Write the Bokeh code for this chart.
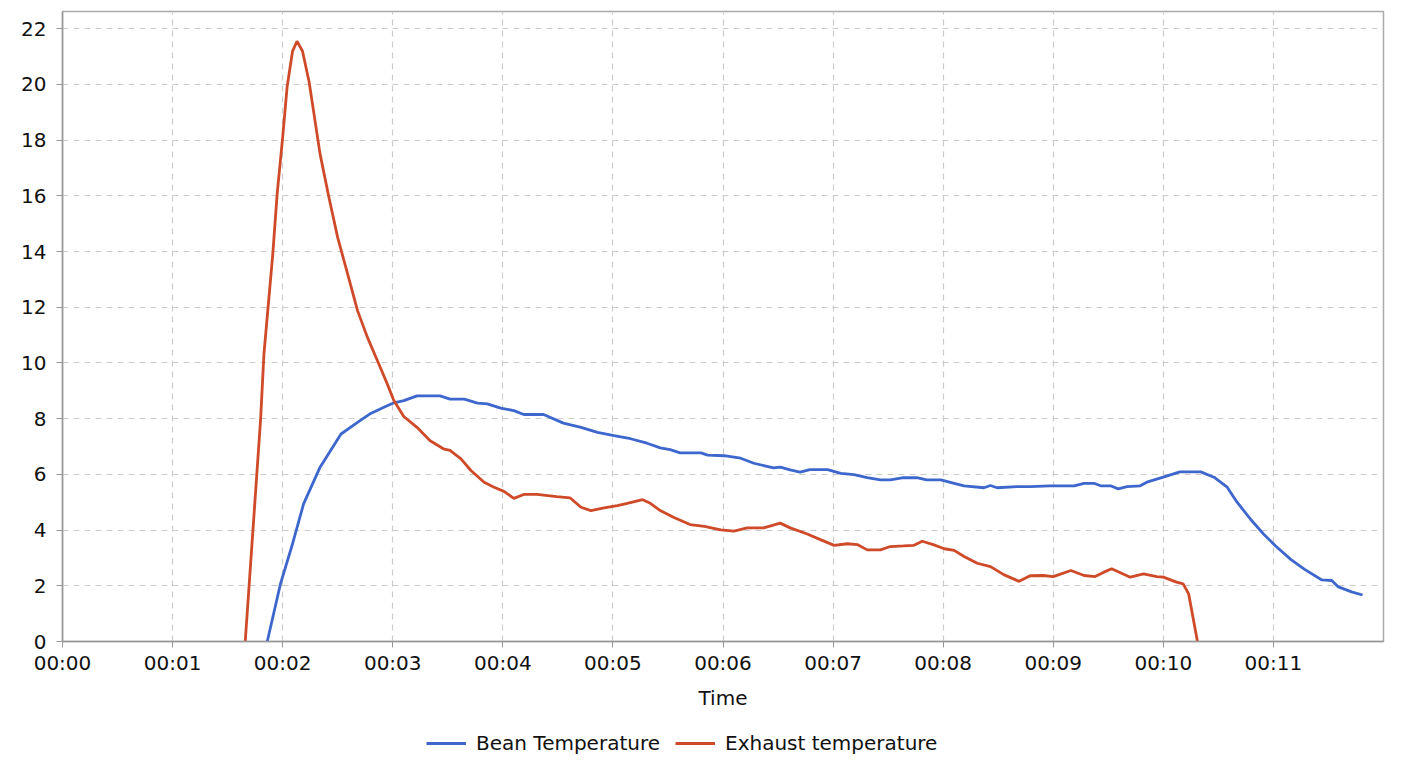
from bokeh.plotting import figure
from bokeh.models import FixedTicker, Range1d, Legend, LegendItem
from bokeh.layouts import column
from bokeh.embed import file_html
from bokeh.resources import INLINE

# roast log, time in minutes
bean_t = [1.86, 1.98, 2.09, 2.19, 2.34, 2.53, 2.68, 2.80, 2.92, 3.01, 3.10, 3.22, 3.43, 3.52,
          3.65, 3.77, 3.86, 3.98, 4.10, 4.19, 4.37, 4.55, 4.71, 4.86, 5.01, 5.16, 5.31, 5.43,
          5.52, 5.61, 5.80, 5.86, 6.01, 6.16, 6.28, 6.46, 6.52, 6.61, 6.70, 6.79, 6.95, 7.07,
          7.19, 7.31, 7.43, 7.52, 7.64, 7.76, 7.85, 7.98, 8.10, 8.19, 8.37, 8.43, 8.49, 8.67,
          8.79, 8.97, 9.19, 9.28, 9.37, 9.43, 9.52, 9.59, 9.67, 9.79, 9.85, 10.00, 10.15, 10.34,
          10.46, 10.58, 10.67, 10.79, 10.91, 11.02, 11.16, 11.28, 11.44, 11.53, 11.59, 11.71, 11.81]
bean_temp = [0.0, 2.07, 3.51, 4.94, 6.26, 7.45, 7.87, 8.19, 8.41, 8.57, 8.65, 8.82, 8.82, 8.70,
             8.70, 8.56, 8.53, 8.38, 8.29, 8.15, 8.15, 7.84, 7.69, 7.51, 7.39, 7.28, 7.12, 6.95,
             6.89, 6.77, 6.77, 6.69, 6.67, 6.58, 6.40, 6.23, 6.26, 6.16, 6.08, 6.17, 6.17, 6.04,
             5.99, 5.88, 5.80, 5.80, 5.88, 5.88, 5.80, 5.80, 5.68, 5.59, 5.52, 5.60, 5.52, 5.56,
             5.56, 5.59, 5.59, 5.68, 5.68, 5.59, 5.59, 5.48, 5.56, 5.59, 5.72, 5.90, 6.09, 6.09,
             5.90, 5.54, 5.00, 4.40, 3.86, 3.43, 2.94, 2.60, 2.21, 2.19, 1.96, 1.78, 1.67]

exhaust_t = [1.66, 1.80, 1.83, 1.91, 1.95, 2.00, 2.04, 2.09, 2.13, 2.18, 2.24, 2.28, 2.34, 2.42,
             2.50, 2.59, 2.68, 2.77, 2.86, 2.95, 3.01, 3.10, 3.22, 3.34, 3.46, 3.52, 3.62, 3.71,
             3.83, 3.92, 4.01, 4.10, 4.19, 4.31, 4.49, 4.61, 4.71, 4.80, 4.92, 5.04, 5.13, 5.27,
             5.34, 5.43, 5.55, 5.70, 5.83, 5.98, 6.10, 6.22, 6.37, 6.52, 6.61, 6.76, 6.89, 7.01,
             7.13, 7.22, 7.31, 7.43, 7.52, 7.64, 7.73, 7.81, 7.91, 8.01, 8.10, 8.19, 8.31, 8.43,
             8.55, 8.69, 8.79, 8.91, 9.00, 9.16, 9.28, 9.38, 9.46, 9.53, 9.70, 9.82, 9.94, 10.00,
             10.12, 10.18, 10.23, 10.31]
exhaust_temp = [0.0, 8.0, 10.33, 13.9, 16.07, 18.1, 19.9, 21.2, 21.55, 21.2, 20.1, 19.06, 17.5,
                15.95, 14.5, 13.2, 11.88, 10.92, 10.09, 9.25, 8.65, 8.08, 7.69, 7.21, 6.92, 6.86,
                6.56, 6.14, 5.72, 5.54, 5.39, 5.14, 5.28, 5.28, 5.20, 5.16, 4.82, 4.70, 4.80, 4.88,
                4.96, 5.09, 4.96, 4.70, 4.46, 4.20, 4.13, 4.01, 3.96, 4.08, 4.08, 4.25, 4.08, 3.87,
                3.65, 3.45, 3.51, 3.48, 3.29, 3.29, 3.41, 3.43, 3.45, 3.60, 3.48, 3.33, 3.27, 3.05,
                2.81, 2.69, 2.40, 2.16, 2.36, 2.37, 2.33, 2.55, 2.37, 2.33, 2.49, 2.61, 2.31, 2.43,
                2.33, 2.31, 2.13, 2.07, 1.71, 0.0]

series_names = ["Bean Temperature", "Exhaust temperature"]
x_ticks = list(range(0, 12))
x_labels = ["00:%02d" % m for m in x_ticks]
y_ticks = list(range(0, 23, 2))

FONT = "DejaVu Sans"
BLUE = "#3d67cc"
RED = "#cf4a28"

p = figure(width=1406, height=718, output_backend="svg", toolbar_location=None,
           x_range=Range1d(0, 12), y_range=Range1d(0, 22.62),
           min_border_left=62, min_border_right=23, min_border_top=11, min_border_bottom=77)

p.line(bean_t, bean_temp, line_color=BLUE, line_width=2.8)
p.line(exhaust_t, exhaust_temp, line_color=RED, line_width=2.8)

p.xaxis.ticker = FixedTicker(ticks=x_ticks)
p.xaxis.major_label_overrides = {t: lab for t, lab in zip(x_ticks, x_labels)}
p.yaxis.ticker = FixedTicker(ticks=y_ticks)
p.xaxis.axis_label = "Time"

for ax in (p.xaxis, p.yaxis):
    ax.axis_line_color = "#999999"
    ax.axis_line_width = 1.5
    ax.major_tick_line_color = "#999999"
    ax.major_tick_out = 6
    ax.major_tick_in = 0
    ax.minor_tick_line_color = None
    ax.major_label_text_font = FONT
    ax.major_label_text_font_size = "20px"
    ax.major_label_text_color = "#111111"
    ax.axis_label_text_font = FONT
    ax.axis_label_text_font_size = "20px"
    ax.axis_label_text_font_style = "normal"
    ax.axis_label_text_color = "#111111"
p.xaxis.major_label_standoff = 3
p.xaxis.axis_label_standoff = 8
p.yaxis.major_label_standoff = 10

p.grid.grid_line_color = "#cccccc"
p.grid.grid_line_dash = "6 5"
p.grid.grid_line_width = 1.2
p.outline_line_color = "#aaaaaa"
p.outline_line_width = 1.5

# legend strip under the chart
leg = figure(width=1406, height=50, output_backend="svg", toolbar_location=None,
             min_border=0, x_axis_location=None, y_axis_location=None)
leg.grid.visible = False
leg.outline_line_color = None
r1 = leg.line([0, 1], [0, 0], line_color=BLUE, line_width=2.8, visible=False)
r2 = leg.line([0, 1], [0, 0], line_color=RED, line_width=2.8, visible=False)

legend = Legend(items=[LegendItem(label=series_names[0], renderers=[r1]),
                       LegendItem(label=series_names[1], renderers=[r2])],
                orientation="horizontal", location=(364, 13))
legend.label_text_font = FONT
legend.label_text_font_size = "20px"
legend.label_text_color = "#111111"
legend.glyph_width = 40
legend.label_standoff = 10
legend.spacing = 15
legend.border_line_color = None
legend.background_fill_alpha = 0
legend.margin = 0
legend.padding = 0
legend.inactive_fill_alpha = 0
leg.add_layout(legend)

layout = column(p, leg)
open("out.html", "w").write(file_html(layout, INLINE))
